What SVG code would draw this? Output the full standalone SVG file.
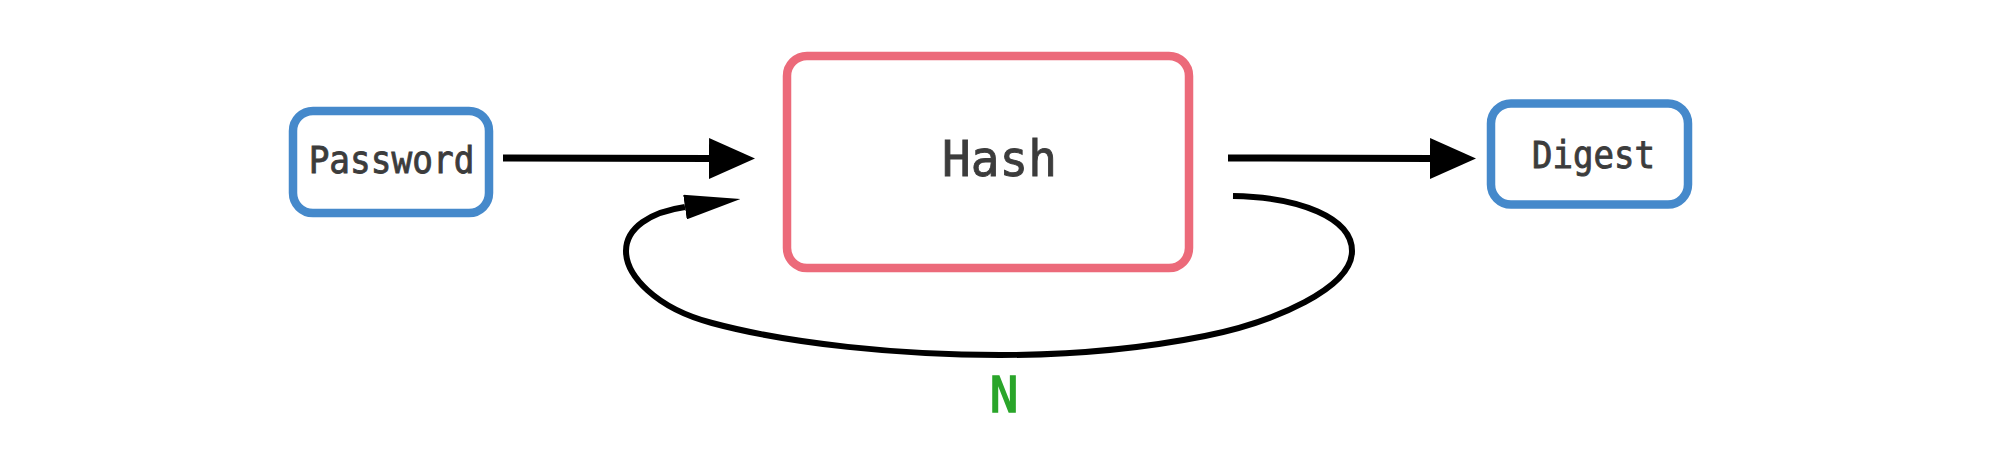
<svg xmlns="http://www.w3.org/2000/svg" width="2000" height="457" viewBox="0 0 2000 457">
<defs>
<style>
.box{fill:#fff;stroke-width:8.5}
.blue{stroke:#4589cb}
.pink{stroke:#ec6a7a}
.lbl{font-family:"DejaVu Sans Mono",monospace;fill:#3c3c3c;stroke:#3c3c3c;stroke-width:0.9;text-anchor:middle}
.edge{fill:none;stroke:#000}
</style>
<marker id="ah" viewBox="0 0 46 41" refX="0" refY="20.5" markerWidth="46" markerHeight="41" markerUnits="userSpaceOnUse" orient="auto"><path d="M0,0 L46,20.5 L0,41 z" fill="#000"/></marker>
<marker id="ah2" viewBox="0 0 56 25" refX="0" refY="12.5" markerWidth="56" markerHeight="25" markerUnits="userSpaceOnUse" orient="auto"><path d="M0,0 L56,12.5 L0,25 z" fill="#000"/></marker>
</defs>
<rect width="2000" height="457" fill="#fff"/>
<g id="connectors">
<line class="edge" x1="503" y1="158" x2="709" y2="158.5" stroke-width="7" marker-end="url(#ah)"/>
<line class="edge" x1="1228" y1="158" x2="1430" y2="158.5" stroke-width="7" marker-end="url(#ah)"/>
<path class="edge" stroke-width="6" marker-end="url(#ah2)" d="M1233,196 C1300,197 1352,218 1352,251 C1352,288 1275,322 1205,336 C1130,351 1060,355 1000,355 C900,355 790,344 712,323 C655,308 626,275 626,251 C626,228 650,212 685,207"/>
<text transform="translate(1004,412) scale(0.95,1)" font-family="DejaVu Sans Mono,monospace" font-size="50" fill="#2aa52a" stroke="#2aa52a" stroke-width="1.5" text-anchor="middle">N</text>
</g>
<g id="password">
<rect class="box blue" x="293" y="111" width="196" height="102" rx="20"/>
<text class="lbl" transform="translate(391.5,173) scale(0.93,1)" font-size="37">Password</text>
</g>
<g id="hash">
<rect class="box pink" x="787" y="56" width="402" height="212" rx="20"/>
<text class="lbl" transform="translate(999.5,176) scale(0.955,1)" font-size="50">Hash</text>
</g>
<g id="digest">
<rect class="box blue" x="1491" y="103.5" width="197" height="101" rx="20"/>
<text class="lbl" transform="translate(1593.5,168) scale(0.92,1)" font-size="37">Digest</text>
</g>
</svg>
